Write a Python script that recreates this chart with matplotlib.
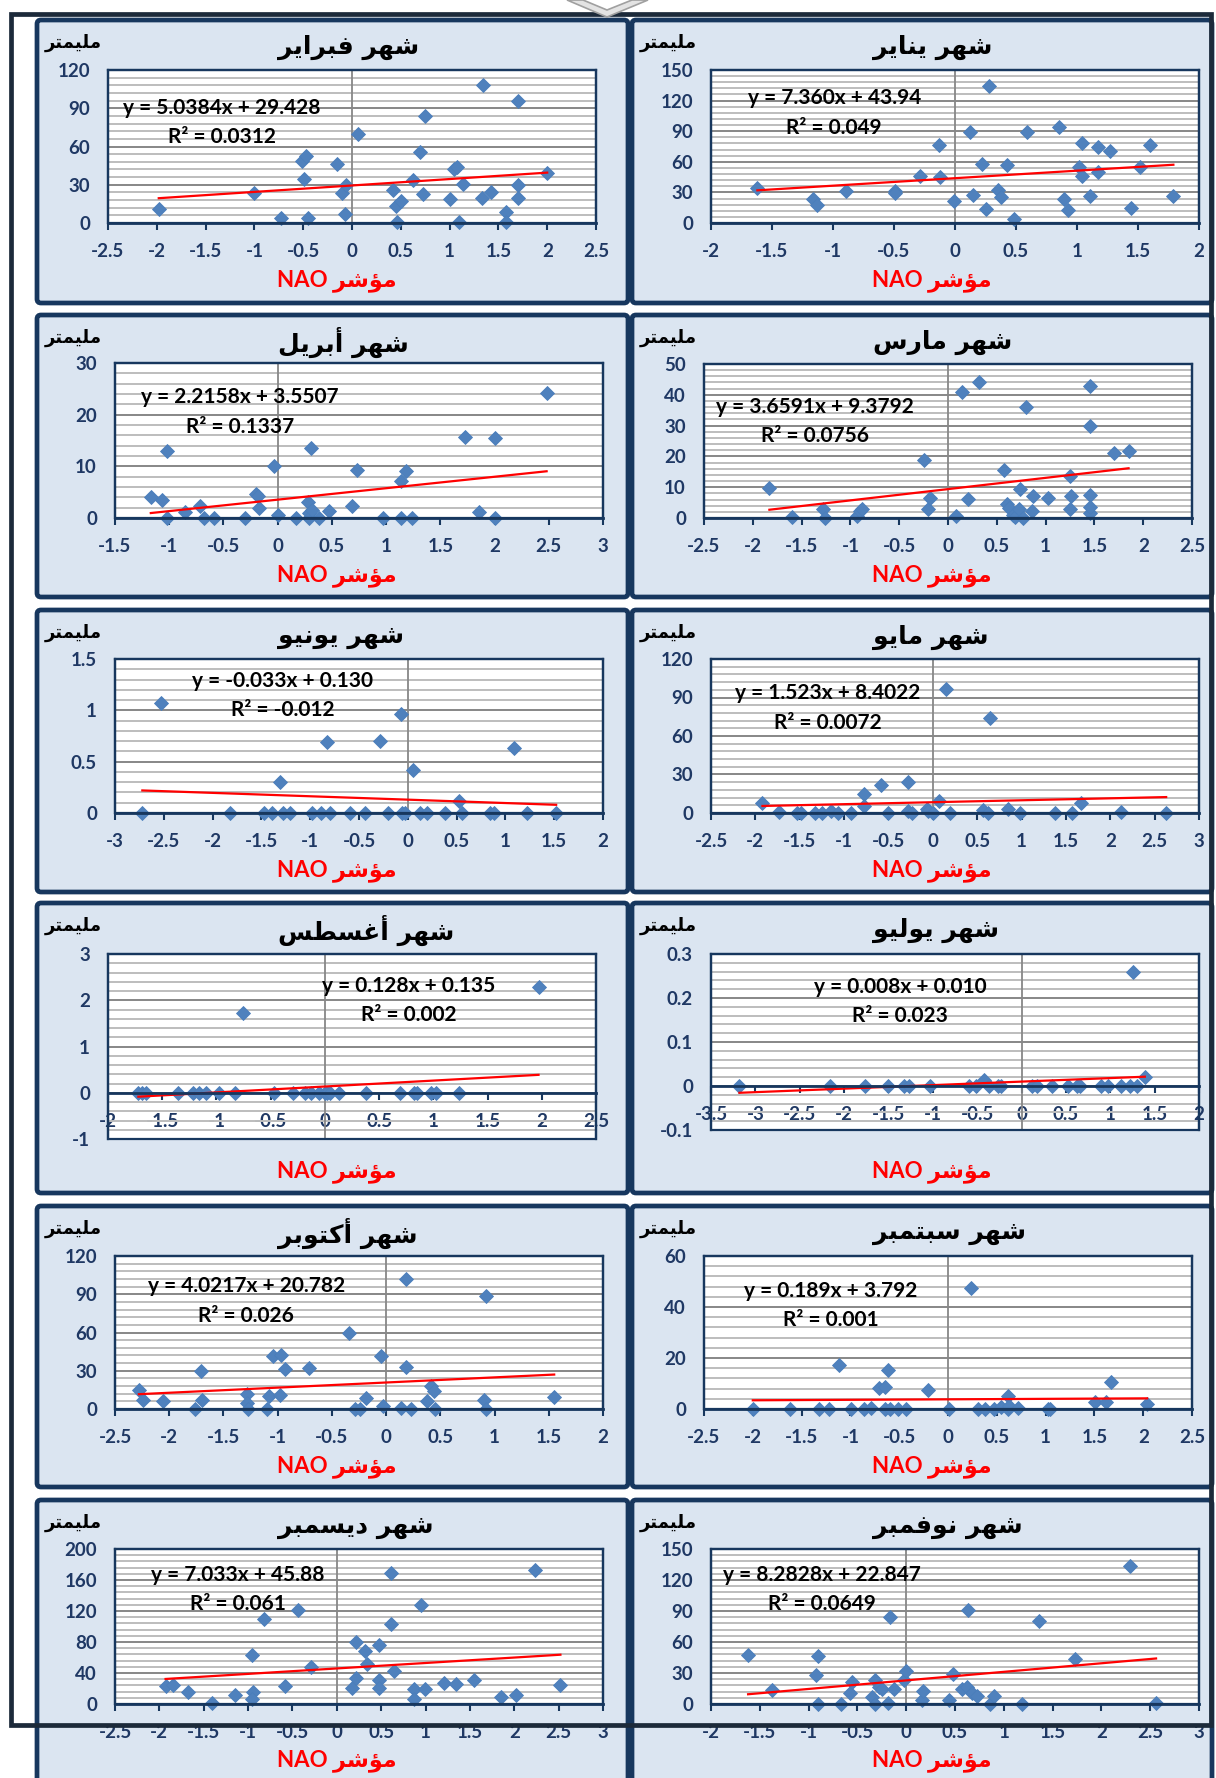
import matplotlib
matplotlib.use('Agg')
import matplotlib.pyplot as plt
from matplotlib.patches import FancyBboxPatch, Rectangle, Polygon
from matplotlib.ticker import MultipleLocator, FuncFormatter

plt.rcParams['font.family'] = ['Lato', 'DejaVu Sans']
plt.rcParams['font.weight'] = 'bold'
plt.rcParams['axes.unicode_minus'] = False

# ---------------- DATA ----------------
feb_x = [-1.98, -1.0, -0.73, -0.51, -0.47, -0.49, -0.45, -0.15, -0.10, -0.06, -0.075, 0.06, 0.42, 0.45, 0.50, 0.46, 0.62,
         0.70, 0.75, 0.73, 1.0, 1.05, 1.075, 1.14, 1.10, 1.33, 1.34, 1.42, 1.58, 1.58, 1.70, 1.70, 1.70, 2.0]
feb_y = [11.2, 23.5, 3.7, 48.3, 52.7, 34.7, 3.9, 46.4, 23.5, 30, 7, 69.7, 26, 13, 17.2, 0.5, 33.9,
         55.3, 84, 22.7, 19, 42.3, 44.3, 30.5, 0.5, 19.6, 108.3, 24.3, 8.6, 0.5, 29.5, 20, 95.7, 39.1]

jan_x = [-1.62, -1.16, -1.13, -0.89, -0.49, -0.49, -0.29, -0.13, -0.12, -0.01, 0.12, 0.15, 0.22, 0.25, 0.28, 0.35, 0.38,
         0.43, 0.48, 0.59, 0.85, 0.89, 0.93, 1.02, 1.04, 1.04, 1.11, 1.17, 1.17, 1.27, 1.44, 1.52, 1.60, 1.79]
jan_y = [34.2, 23.5, 17.9, 31.6, 31.6, 29.3, 45.6, 76, 45, 21.8, 89.3, 27, 57.7, 14, 134.3, 32, 25.4,
         57, 3.6, 89.7, 94.6, 23.8, 13, 54.8, 78.3, 46.3, 26.7, 75, 49.9, 70.8, 14.7, 54.8, 76.6, 26.1]

apr_x = [-1.17, -1.07, -1.02, -1.02, -0.85, -0.72, -0.68, -0.59, -0.30, -0.20, -0.18, -0.17, -0.03, 0.0, 0.17, 0.28, 0.29,
         0.29, 0.31, 0.32, 0.38, 0.47, 0.69, 0.73, 0.97, 1.14, 1.18, 1.14, 1.24, 1.73, 1.86, 2.0, 2.0, 2.48]
apr_y = [4.0, 3.4, 12.9, 0, 1.2, 2.4, 0, 0, 0, 4.6, 4.2, 1.9, 10, 0.5, 0, 3.1, 1,
         0, 13.5, 1.5, 0, 1.3, 2.4, 9.2, 0, 7.1, 9.0, 0, 0, 15.7, 1.1, 15.5, 0, 24.1]

mar_x = [-1.83, -1.60, -1.28, -1.26, -0.93, -0.90, -0.88, -0.25, -0.20, -0.18, 0.08, 0.14, 0.20, 0.32, 0.57, 0.60, 0.63,
         0.67, 0.69, 0.73, 0.74, 0.77, 0.80, 0.86, 0.87, 1.02, 1.25, 1.26, 1.25, 1.45, 1.46, 1.46, 1.46, 1.46, 1.70, 1.85]
mar_y = [9.7, 0.3, 3.0, 0, 0.5, 2.2, 2.9, 18.7, 2.9, 6.5, 0.8, 40.8, 6.2, 44.3, 15.7, 4.6, 3.2,
         1.1, 0.3, 3.0, 9.4, 0, 35.9, 2.2, 7.2, 6.5, 13.5, 7.2, 3.0, 1.6, 7.6, 3.6, 42.7, 30.0, 21.1, 21.9]

jun_x = [-2.72, -2.53, -1.82, -1.47, -1.39, -1.31, -1.28, -1.21, -0.98, -0.89, -0.83, -0.80, -0.59, -0.44, -0.28,
         -0.20, -0.07, -0.06, -0.03, 0.05, 0.13, 0.20, 0.38, 0.52, 0.56, 0.84, 0.88, 1.09, 1.22, 1.52]
jun_y = [0, 1.07, 0, 0, 0, 0.30, 0, 0, 0, 0, 0.69, 0, 0, 0, 0.70,
         0, 0.96, 0, 0, 0.42, 0, 0, 0, 0.12, 0, 0, 0, 0.63, 0, 0]

may_x = [-1.92, -1.73, -1.53, -1.49, -1.33, -1.25, -1.15, -1.07, -0.92, -0.78, -0.77, -0.58, -0.50, -0.28, -0.28, -0.23,
         -0.07, -0.05, 0.0, 0.07, 0.15, 0.19, 0.57, 0.62, 0.65, 0.85, 0.98, 1.38, 1.57, 1.67, 2.12, 2.63]
may_y = [8.1, 0.8, 0.3, 0.3, 0, 0, 1.6, 0, 0, 15.1, 5.5, 21.6, 0.3, 24.2, 1.6, 0,
         3.4, 1.6, 0, 9.1, 96.3, 0.3, 2.1, 0.3, 74.4, 3.4, 0, 0.3, 0.3, 8.1, 0.8, 0]

aug_x = [-1.72, -1.69, -1.65, -1.35, -1.22, -1.16, -1.10, -0.98, -0.83, -0.757, -0.47, -0.29, -0.18, -0.13,
         -0.05, 0.0, 0.02, 0.045, 0.13, 0.38, 0.69, 0.82, 0.85, 0.98, 1.02, 1.24, 1.97]
aug_y = [0, 0, 0, 0, 0, 0, 0, 0, 0, 1.72, 0, 0, 0, 0,
         0, 0, 0, 0, 0, 0, 0, 0, 0, 0, 0, 0, 2.28]

jul_x = [-3.18, -2.16, -1.76, -1.50, -1.33, -1.27, -1.03, -0.59, -0.51, -0.42, -0.37, -0.26, -0.23,
         0.12, 0.17, 0.34, 0.52, 0.63, 0.66, 0.90, 0.97, 1.12, 1.22, 1.26, 1.30, 1.39]
jul_y = [0, 0, 0, 0, 0, 0, 0, 0, 0, 0.014, 0, 0, 0,
         0, 0, 0, 0, 0, 0, 0, 0, 0, 0, 0.259, 0, 0.021]

oct_x = [-2.28, -2.24, -2.06, -1.76, -1.71, -1.70, -1.28, -1.28, -1.27, -1.10, -1.08, -1.04, -0.97, -0.98, -0.93, -0.71,
         -0.34, -0.29, -0.24, -0.19, -0.045, -0.03, 0.14, 0.18, 0.18, 0.23, 0.38, 0.41, 0.44, 0.45, 0.90, 0.92, 0.92, 1.55]
oct_y = [15.1, 7.3, 6.0, 0, 30, 7.3, 11.7, 4.7, 0, 0, 10.4, 41.7, 42.3, 11.2, 31.3, 32.1,
         60, 0, 0, 8.3, 41.2, 2.1, 0.8, 102, 32.6, 0.3, 6.0, 18.3, 13.8, 0, 6.8, 0, 89, 9.4]

sep_x = [-2.0, -1.62, -1.32, -1.22, -1.12, -0.99, -0.86, -0.79, -0.71, -0.65, -0.65, -0.61, -0.59, -0.51, -0.43, -0.21,
         0.01, 0.24, 0.31, 0.38, 0.47, 0.54, 0.61, 0.61, 0.63, 0.72, 1.02, 1.05, 1.51, 1.62, 1.67, 2.04]
sep_y = [0, 0, 0, 0, 17.1, 0, 0, 0.4, 8.2, 8.6, 0, 15.1, 0, 0, 0, 7.3,
         0, 47.3, 0, 0, 0, 0.8, 5.0, 0, 1.0, 0.4, 0, 0, 2.6, 2.6, 10.6, 2.0]

dec_x = [-1.93, -1.85, -1.68, -1.41, -1.15, -0.96, -0.94, -0.96, -0.82, -0.58, -0.44, -0.29, 0.17, 0.22, 0.22, 0.32,
         0.34, 0.47, 0.47, 0.48, 0.61, 0.61, 0.64, 0.87, 0.87, 0.95, 0.99, 1.21, 1.34, 1.55, 1.85, 2.02, 2.23, 2.52]
dec_y = [23.7, 24.5, 15.1, 1.3, 12, 62.8, 15.1, 6.9, 109.7, 23.7, 120.9, 47.3, 20.6, 33.1, 79.6, 68.4,
         52, 75.7, 31.4, 20.6, 168.6, 103.2, 42.2, 19.4, 6.5, 127.3, 19.4, 27.1, 26.2, 31.4, 8.6, 12, 172.5, 24.1]

nov_x = [-1.62, -1.38, -0.92, -0.90, -0.90, -0.67, -0.58, -0.56, -0.35, -0.32, -0.32, -0.28, -0.25, -0.19, -0.17, -0.12,
         -0.02, 0.0, 0.16, 0.17, 0.44, 0.48, 0.57, 0.62, 0.63, 0.67, 0.73, 0.86, 0.90, 1.19, 1.36, 1.73, 2.29, 2.56]
nov_y = [47.7, 13.9, 28.1, 46.1, 0.3, 0.3, 10.6, 21, 6.8, 0.3, 23.5, 16.1, 14.5, 1.0, 83.9, 14.5,
         22.9, 31.6, 4.2, 12.3, 3.5, 29, 14.5, 16.5, 91.3, 10.6, 7.4, 0.3, 7.4, 0.3, 80, 43.5, 133.2, 1.0]

# panel order: row by row, left then right
month_names = ['فبراير', 'يناير', 'أبريل', 'مارس', 'يونيو', 'مايو',
               'أغسطس', 'يوليو', 'أكتوبر', 'سبتمبر', 'ديسمبر', 'نوفمبر']
series_x = [feb_x, jan_x, apr_x, mar_x, jun_x, may_x, aug_x, jul_x, oct_x, sep_x, dec_x, nov_x]
series_y = [feb_y, jan_y, apr_y, mar_y, jun_y, may_y, aug_y, jul_y, oct_y, sep_y, dec_y, nov_y]
slopes = [5.0384, 7.360, 2.2158, 3.6591, -0.033, 1.523, 0.128, 0.008, 4.0217, 0.189, 7.033, 8.2828]
intercepts = [29.428, 43.94, 3.5507, 9.3792, 0.130, 8.4022, 0.135, 0.010, 20.782, 3.792, 45.88, 22.847]
eq_texts = ['y = 5.0384x + 29.428', 'y = 7.360x + 43.94', 'y = 2.2158x + 3.5507', 'y = 3.6591x + 9.3792',
            'y = -0.033x + 0.130', 'y = 1.523x + 8.4022', 'y = 0.128x + 0.135', 'y = 0.008x + 0.010',
            'y = 4.0217x + 20.782', 'y = 0.189x + 3.792', 'y = 7.033x + 45.88', 'y = 8.2828x + 22.847']
r2_texts = ['R² = 0.0312', 'R² = 0.049', 'R² = 0.1337', 'R² = 0.0756', 'R² = -0.012', 'R² = 0.0072',
            'R² = 0.002', 'R² = 0.023', 'R² = 0.026', 'R² = 0.001', 'R² = 0.061', 'R² = 0.0649']
x_limits = [(-2.5, 2.5), (-2, 2), (-1.5, 3), (-2.5, 2.5), (-3, 2), (-2.5, 3),
            (-2, 2.5), (-3.5, 2), (-2.5, 2), (-2.5, 2.5), (-2.5, 3), (-2, 3)]
y_limits = [(0, 120), (0, 150), (0, 30), (0, 50), (0, 1.5), (0, 120),
            (-1, 3), (-0.1, 0.3), (0, 120), (0, 60), (0, 200), (0, 150)]
y_steps = [30, 30, 10, 10, 0.5, 30, 1, 0.1, 30, 20, 40, 30]
x_step = 0.5

# ---------------- LAYOUT (pixels) ----------------
W, H = 1216, 1778
col_x = [(37, 628), (632, 1212)]
row_y = [(20, 303), (315, 597), (610, 892), (903, 1193), (1206, 1487), (1500, 1800)]
plot_boxes = [(108, 596, 70, 223), (711, 1199, 70, 223),
              (115, 603, 363, 518), (704, 1192, 364, 518),
              (115, 603, 659, 813), (711, 1199, 659, 813),
              (108, 596, 954, 1139), (711, 1199, 954, 1130),
              (115, 603, 1256, 1409), (704, 1192, 1256, 1409),
              (115, 603, 1549, 1704), (711, 1199, 1549, 1704)]
eq_pos = [(-1.33, 90, 67.8), (-0.99, 122.3, 93.6), (-0.35, 23.5, 17.7), (-1.36, 35.9, 26.5),
          (-1.28, 1.285, 1.0), (-1.18, 93.2, 70.3), (0.77, 2.30, 1.69), (-1.37, 0.226, 0.159),
          (-1.29, 96.5, 73.3), (-1.20, 46.4, 35), (-1.12, 166.9, 129), (-0.86, 125.2, 96.8)]

NAVY = '#17375e'
TICK_NAVY = '#1f3864'
PANEL_BG = '#dbe5f1'
MARKER = '#4f81bd'

# ---------------- Arabic shaping (presentation forms, visual order) ----------------
FORMS = {
    'ا': ('\uFE8D', '\uFE8E', None, None), 'أ': ('\uFE83', '\uFE84', None, None),
    'ب': ('\uFE8F', '\uFE90', '\uFE91', '\uFE92'), 'ت': ('\uFE95', '\uFE96', '\uFE97', '\uFE98'),
    'د': ('\uFEA9', '\uFEAA', None, None), 'ر': ('\uFEAD', '\uFEAE', None, None),
    'س': ('\uFEB1', '\uFEB2', '\uFEB3', '\uFEB4'), 'ش': ('\uFEB5', '\uFEB6', '\uFEB7', '\uFEB8'),
    'ط': ('\uFEC1', '\uFEC2', '\uFEC3', '\uFEC4'), 'غ': ('\uFECD', '\uFECE', '\uFECF', '\uFED0'),
    'ف': ('\uFED1', '\uFED2', '\uFED3', '\uFED4'), 'ك': ('\uFED9', '\uFEDA', '\uFEDB', '\uFEDC'),
    'ل': ('\uFEDD', '\uFEDE', '\uFEDF', '\uFEE0'), 'م': ('\uFEE1', '\uFEE2', '\uFEE3', '\uFEE4'),
    'ن': ('\uFEE5', '\uFEE6', '\uFEE7', '\uFEE8'), 'ه': ('\uFEE9', '\uFEEA', '\uFEEB', '\uFEEC'),
    'و': ('\uFEED', '\uFEEE', None, None), 'ؤ': ('\uFE85', '\uFE86', None, None),
    'ي': ('\uFEF1', '\uFEF2', '\uFEF3', '\uFEF4'),
}


def shape(word):
    out = []
    n = len(word)
    for i, ch in enumerate(word):
        f = FORMS.get(ch)
        if f is None:
            out.append(ch)
            continue
        prev = word[i - 1] if i > 0 else None
        nxt = word[i + 1] if i < n - 1 else None
        jp = prev in FORMS and FORMS[prev][2] is not None
        jn = (nxt in FORMS) and f[2] is not None
        if jp and jn:
            out.append(f[3])
        elif jp:
            out.append(f[1])
        elif jn:
            out.append(f[2])
        else:
            out.append(f[0])
    return ''.join(out)


def rtl(s):
    return shape(s)[::-1]


def fmt(v, pos=None):
    v = round(v, 6)
    if abs(v) < 1e-9:
        return '0'
    return '{:g}'.format(v)


fig = plt.figure(figsize=(W / 100, H / 100), dpi=100)
bg = fig.add_axes([0, 0, 1, 1])
bg.set_xlim(0, W)
bg.set_ylim(H, 0)
bg.axis('off')

mm_label = rtl('مليمتر')
x_label = 'NAO ' + rtl('مؤشر')

for i in range(12):
    r, c = divmod(i, 2)
    x0, x1 = col_x[c]
    y0, y1 = row_y[r]
    bg.add_patch(FancyBboxPatch((x0, y0), x1 - x0, y1 - y0,
                                boxstyle='round,pad=0,rounding_size=4',
                                fc=PANEL_BG, ec=NAVY, lw=3.4, zorder=1))
    bg.text(x0 + 241, y0 + 27, rtl('شهر ' + month_names[i]), ha='left', va='center',
            fontsize=18, fontweight='bold', color='black', family=['DejaVu Sans'], zorder=2)
    bg.text(x0 + 36, y0 + 23, mm_label, ha='center', va='center', fontsize=13,
            fontweight='bold', color='black', family=['DejaVu Sans'], zorder=2)
    lab_dy = 269 if r == 3 else 261
    bg.text(x0 + 300, y0 + lab_dy, x_label, ha='center', va='center', fontsize=16,
            fontweight='bold', color='#ff0000', zorder=2)

    px0, px1, py0, py1 = plot_boxes[i]
    ax = fig.add_axes([px0 / W, 1 - py1 / H, (px1 - px0) / W, (py1 - py0) / H])
    ax.set_facecolor('white')
    ax.set_xlim(*x_limits[i])
    ax.set_ylim(*y_limits[i])
    ystep = y_steps[i]
    ax.yaxis.set_major_locator(MultipleLocator(ystep))
    ax.yaxis.set_minor_locator(MultipleLocator(ystep / 5))
    ax.xaxis.set_major_locator(MultipleLocator(x_step))
    ax.xaxis.set_major_formatter(FuncFormatter(fmt))
    ax.yaxis.set_major_formatter(FuncFormatter(fmt))
    ax.set_axisbelow(True)
    ax.grid(axis='y', which='minor', color='#bdbdbd', lw=1.4)
    ax.grid(axis='y', which='major', color='#878787', lw=1.4)
    ax.grid(axis='x', which='both', visible=False)
    for s in ['top', 'left', 'right']:
        ax.spines[s].set_color(NAVY)
        ax.spines[s].set_linewidth(1.6)
    ax.spines['bottom'].set_position(('data', 0))
    ax.spines['bottom'].set_color(NAVY)
    ax.spines['bottom'].set_linewidth(2.0)
    ax.spines['bottom'].set_zorder(4)
    ax.add_patch(Rectangle((0, 0), 1, 1, transform=ax.transAxes, fill=False,
                           ec=NAVY, lw=1.6, zorder=5, clip_on=False))
    ax.tick_params(axis='y', which='both', length=0, pad=13, labelsize=13.5, labelcolor=TICK_NAVY)
    ax.tick_params(axis='x', which='major', length=5, width=1.5, color=NAVY, direction='out',
                   pad=9.5, labelsize=13.5, labelcolor=TICK_NAVY)
    ax.tick_params(axis='x', which='minor', length=0)
    ax.axvline(0, color='#878787', lw=1.3, zorder=1)

    xs = series_x[i]
    ys = series_y[i]
    ax.plot(xs, ys, linestyle='none', marker='D', markersize=6.8, color=MARKER,
            markeredgecolor='#4a7ebb', markeredgewidth=0.6, zorder=3, clip_on=False)
    xa, xb = min(xs), max(xs)
    ax.plot([xa, xb], [slopes[i] * xa + intercepts[i], slopes[i] * xb + intercepts[i]],
            color='#ff0000', lw=1.6, zorder=4)

    ex, ey1, ey2 = eq_pos[i]
    ax.text(ex, ey1, eq_texts[i], ha='center', va='center', fontsize=15, fontweight='bold',
            color='black', zorder=6)
    ax.text(ex, ey2, r2_texts[i], ha='center', va='center', fontsize=15, fontweight='bold',
            color='black', zorder=6)

# overlay: outer frame and top chevron
ov = fig.add_axes([0, 0, 1, 1])
ov.set_xlim(0, W)
ov.set_ylim(H, 0)
ov.axis('off')
ov.patch.set_alpha(0)
ov.add_patch(Rectangle((11, 14), 1200, 1711, fill=False, ec='#1c2a3a', lw=3.4, zorder=10))
ov.add_patch(Polygon([(567, 0), (607, 17), (648, 0), (632, 0), (607, 10), (583, 0)],
                     closed=True, fc='#e3e3e3', ec='#a0a0a0', lw=1.2, zorder=11))

fig.savefig('out.png', dpi=100)
